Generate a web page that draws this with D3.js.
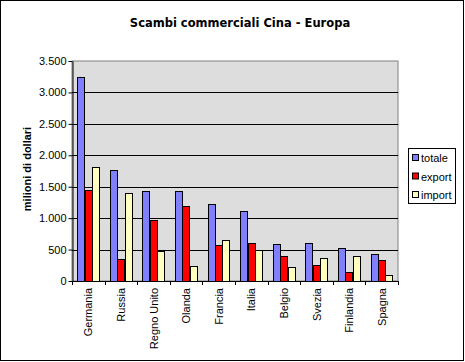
<!DOCTYPE html>
<html><head><meta charset="utf-8">
<script src="https://cdn.jsdelivr.net/npm/d3@7"></script>
<style>body{margin:0;background:#fff}svg{display:block}</style>
</head><body>
<svg id="c" width="465" height="362"></svg>
<script>
const categories = ["Germania","Russia","Regno Unito","Olanda","Francia","Italia","Belgio","Svezia","Finlandia","Spagna"];
const totale = [3250,1760,1430,1430,1220,1120,590,600,520,430];
const exportV = [1450,350,970,1190,580,600,390,250,140,330];
const importV = [1810,1400,470,240,650,500,220,370,400,100];
const seriesNames = ["totale","export","import"];
const seriesColors = ["#8080FF","#FF0000","#FFFFC0"];
const yTicks = [0,500,1000,1500,2000,2500,3000,3500];
const tickLabels = ["0","500","1.000","1.500","2.000","2.500","3.000","3.500"];
const title = "Scambi commerciali Cina - Europa";
const yTitle = "milioni di dollari";

const svg = d3.select("#c");
const font = "Arial, 'Liberation Sans', sans-serif";
svg.append("rect").attr("x",0.5).attr("y",0.5).attr("width",463).attr("height",360)
  .attr("fill","#fff").attr("stroke","#000");

const L=72, R=398, T=61, B=281;
const x = d3.scaleBand().domain(categories).range([L,R]).paddingInner(0.32).paddingOuter(0.16);
const y = d3.scaleLinear().domain([0,3500]).range([B,T]);
const xs = d3.scaleBand().domain(seriesNames).range([0,x.bandwidth()]);

svg.append("rect").attr("x",L).attr("y",T).attr("width",R-L).attr("height",B-T)
  .attr("fill","#DDDDDD").attr("stroke","#808080");

// gridlines
svg.append("g").selectAll("line").data(yTicks.slice(1,-1)).join("line")
  .attr("x1",L).attr("x2",R).attr("y1",d=>Math.round(y(d))+0.5).attr("y2",d=>Math.round(y(d))+0.5)
  .attr("stroke","#000");

const data = [totale,exportV,importV];
const g = svg.append("g");
categories.forEach((c,i)=>{
  seriesNames.forEach((s,j)=>{
    const v = data[j][i];
    g.append("rect")
      .attr("x",Math.round(x(c)+xs(s))+0.5)
      .attr("y",Math.round(y(v))+0.5)
      .attr("width",Math.round(xs.bandwidth()))
      .attr("height",Math.round(y(0))-Math.round(y(v)))
      .attr("fill",seriesColors[j]).attr("stroke","#000");
  });
});

// y axis
const ya = d3.axisLeft(y).tickValues(yTicks).tickFormat((d,i)=>tickLabels[i]).tickSize(4).tickSizeOuter(0);
const yg = svg.append("g").attr("transform",`translate(${L+0.5},0)`).call(ya);
yg.select(".domain").attr("stroke","#000");
yg.selectAll(".tick line").attr("stroke","#000");
yg.selectAll(".tick text").attr("font-family",font).attr("font-size",11).attr("fill","#000").attr("x",-6);

// x axis
const step = x.step();
const xg = svg.append("g");
xg.append("line").attr("x1",L).attr("x2",R+1).attr("y1",B+0.5).attr("y2",B+0.5).attr("stroke","#000");
const bounds = categories.map((c,i)=>L + i*(R-L)/categories.length).concat([R]);
xg.selectAll(".tk").data(bounds).join("line").attr("class","tk")
  .attr("x1",d=>Math.round(d)+0.5).attr("x2",d=>Math.round(d)+0.5).attr("y1",B).attr("y2",B+4).attr("stroke","#000");
xg.selectAll("text").data(categories).join("text")
  .attr("transform",d=>`translate(${x(d)+x.bandwidth()/2+4},${B+7}) rotate(-90)`)
  .attr("text-anchor","end").attr("font-family",font).attr("font-size",11).text(d=>d);

// titles
svg.append("text").attr("x",240).attr("y",27).attr("text-anchor","middle")
  .attr("font-family","Verdana, 'DejaVu Sans', sans-serif").attr("font-weight","bold").attr("font-size",11.5).text(title);
svg.append("text").attr("transform",`translate(31,169) rotate(-90)`).attr("text-anchor","middle")
  .attr("font-family",font).attr("font-weight","bold").attr("font-size",11).text(yTitle);

// legend
const lg = svg.append("g");
lg.append("rect").attr("x",408.5).attr("y",148.5).attr("width",47).attr("height",55).attr("fill","#fff").attr("stroke","#000");
seriesNames.forEach((s,j)=>{
  const cy = 158 + j*18.5;
  lg.append("rect").attr("x",412.5).attr("y",cy-3.5).attr("width",6).attr("height",6).attr("fill",seriesColors[j]).attr("stroke","#000");
  lg.append("text").attr("x",421).attr("y",cy+4).attr("font-family",font).attr("font-size",11).text(s);
});
</script>
</body></html>
